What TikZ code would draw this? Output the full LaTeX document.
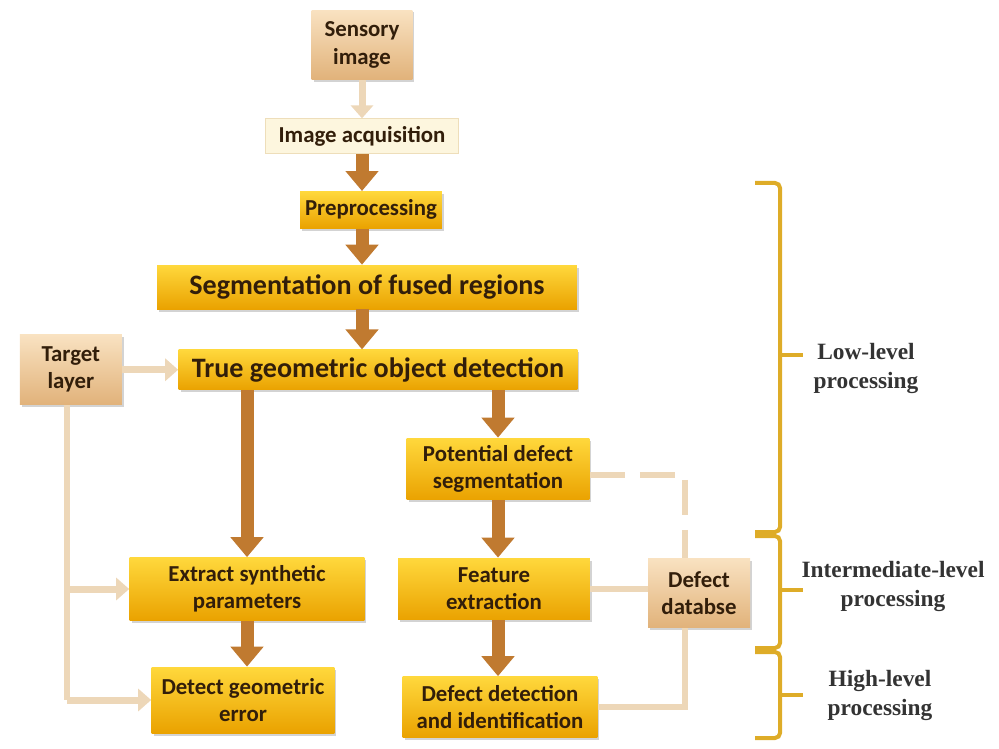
\documentclass[tikz,border=0pt]{standalone}
\usepackage{fontspec}
\setmainfont{Carlito}
\newfontfamily\labelfont{Liberation Serif}
\usetikzlibrary{positioning, arrows.meta, shadows}

\definecolor{goldtop}{RGB}{255,216,60}
\definecolor{goldbot}{RGB}{234,162,0}
\definecolor{tantop}{RGB}{249,226,193}
\definecolor{tanbot}{RGB}{225,178,122}
\definecolor{creamfill}{RGB}{253,246,222}
\definecolor{creamline}{RGB}{238,222,186}
\definecolor{browncol}{RGB}{192,122,48}
\definecolor{palecol}{RGB}{237,215,184}
\definecolor{bracecol}{RGB}{222,172,40}
\definecolor{textbrown}{RGB}{50,30,10}

\begin{document}
\begin{tikzpicture}[
    x=0.02cm, y=-0.02cm,
    box/.style={rectangle, inner sep=2pt, align=center, text=textbrown, font=\bfseries\fontsize{13}{15.5}\selectfont},
    goldbox/.style={box, top color=goldtop, bottom color=goldbot, drop shadow={shadow xshift=0.04cm, shadow yshift=-0.05cm, opacity=0.35}},
    tanbox/.style={box, top color=tantop, bottom color=tanbot, drop shadow={shadow xshift=0.04cm, shadow yshift=-0.05cm, opacity=0.35}},
    bigfont/.style={font=\bfseries\fontsize{16}{18}\selectfont},
    bigarrow/.style={draw=browncol, line width=0.26cm, -{Triangle[width=0.64cm, length=0.4cm]}},
    palearrow/.style={draw=palecol, line width=0.14cm, -{Triangle[width=0.44cm, length=0.26cm]}},
    paleline/.style={draw=palecol, line width=0.13cm},
    brace/.style={draw=bracecol, line width=0.08cm, rounded corners=0.1cm},
    levellabel/.style={align=center, font=\labelfont\bfseries\fontsize{13.3}{16.5}\selectfont, text=black!80}
]
\useasboundingbox (0,0) rectangle (999,749);

\node[tanbox, minimum width=2.02cm, minimum height=1.4cm] (sens) at (362,45) {Sensory\\image};
\node[box, fill=creamfill, draw=creamline, minimum width=3.86cm, minimum height=0.7cm, below=0.76cm of sens] (acq) {Image acquisition};
\node[goldbox, minimum width=2.84cm, minimum height=0.74cm, below=0.74cm of acq, xshift=0.18cm] (pre) {Preprocessing};
\node[goldbox, bigfont, minimum width=8.4cm, minimum height=0.88cm, below=0.72cm of pre, xshift=-0.08cm] (seg) {Segmentation of fused regions};
\node[goldbox, bigfont, minimum width=7.98cm, minimum height=0.8cm, below=0.8cm of seg, xshift=0.22cm] (geo) {True geometric object detection};
\node[tanbox, minimum width=2.04cm, minimum height=1.4cm, left=1.12cm of geo] (target) {Target\\layer};

\node[goldbox, minimum width=3.66cm, minimum height=1.24cm] (pds) at (498,469) {Potential defect\\segmentation};
\node[goldbox, minimum width=3.84cm, minimum height=1.24cm] (feat) at (494,589) {Feature\\extraction};
\node[goldbox, minimum width=3.9cm, minimum height=1.22cm] (ddi) at (500,707) {Defect detection\\and identification};
\node[tanbox, minimum width=2.04cm, minimum height=1.4cm] (ddb) at (699,593) {Defect\\databse};
\node[goldbox, minimum width=4.7cm, minimum height=1.26cm] (esp) at (247,589) {Extract synthetic\\parameters};
\node[goldbox, minimum width=3.66cm, minimum height=1.32cm] (dge) at (243,700) {Detect geometric\\error};

\draw[palearrow] (sens) -- (acq);
\draw[bigarrow] (acq.south) -- (acq.south |- pre.north);
\draw[bigarrow] (acq.south |- pre.south) -- (acq.south |- seg.north);
\draw[bigarrow] (acq.south |- seg.south) -- (acq.south |- geo.north);
\draw[palearrow] (target.east) -- (target.east -| geo.west);
\draw[bigarrow] (esp.north |- geo.south) -- (esp.north);
\draw[bigarrow] (esp.south) -- (esp.south |- dge.north);
\draw[bigarrow] (pds.north |- geo.south) -- (pds.north);
\draw[bigarrow] (pds.south) -- (pds.south |- feat.north);
\draw[bigarrow] (pds.south |- feat.south) -- (pds.south |- ddi.north);

\draw[paleline] ([xshift=-0.08cm]target.south) -- ([xshift=-0.08cm]target.south |- dge.west);
\draw[palearrow] ([xshift=-0.08cm]target.south |- dge.west) -- (dge.west);
\draw[palearrow] ([xshift=-0.08cm]target.south |- esp.west) -- (esp.west);

\coordinate (dbtop) at ([xshift=-0.28cm]ddb.north);
\coordinate (dbbot) at ([xshift=-0.28cm]ddb.south);
\draw[paleline, dash pattern=on 0.7cm off 0.3cm] ([yshift=-0.12cm]pds.east) -- ([yshift=-0.12cm]pds.east -| dbtop) -- (dbtop);
\draw[paleline] (feat.east) -- (feat.east -| ddb.west);
\draw[paleline] (dbbot) -- (dbbot |- ddi.east) -- (ddi.east);

\draw[brace] (755,183) -- (780,183) -- (780,532) -- (755,532);
\draw[brace] (780,355) -- (803,355);
\draw[brace] (755,536) -- (780,536) -- (780,648) -- (755,648);
\draw[brace] (780,590) -- (803,590);
\draw[brace] (755,652) -- (780,652) -- (780,738) -- (755,738);
\draw[brace] (780,695) -- (803,695);

\node[levellabel] (low) at (866,368) {Low-level\\processing};
\node[levellabel] (mid) at (893,586) {Intermediate-level\\processing};
\node[levellabel] (high) at (880,695) {High-level\\processing};
\end{tikzpicture}
\end{document}
